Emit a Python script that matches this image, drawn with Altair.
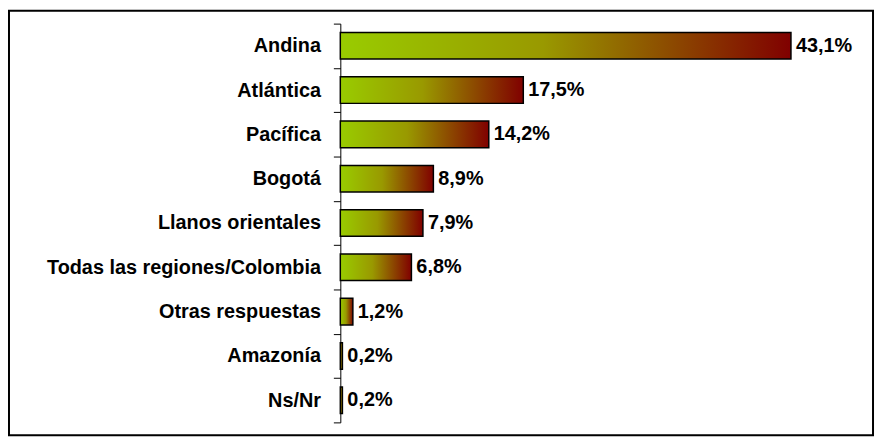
import altair as alt
import pandas as pd

categories = ["Andina", "Atlántica", "Pacífica", "Bogotá", "Llanos orientales",
              "Todas las regiones/Colombia", "Otras respuestas", "Amazonía", "Ns/Nr"]
values = [43.1, 17.5, 14.2, 8.9, 7.9, 6.8, 1.2, 0.2, 0.2]
labels = [f"{v:.1f}".replace(".", ",") + "%" for v in values]

df = pd.DataFrame({"region": categories, "pct": values, "label": labels})

FONT = "Liberation Sans"

y_enc = alt.Y("region:N", sort=categories, title=None,
              scale=alt.Scale(paddingInner=0, paddingOuter=0),
              axis=alt.Axis(domainColor="black", domainWidth=1, tickColor="black",
                            tickSize=7, tickWidth=1, tickBand="extent",
                            labelFont=FONT, labelFontSize=20, labelFontWeight="bold",
                            labelColor="black", labelPadding=13, labelLimit=0,
                            grid=False))
x_enc = alt.X("pct:Q", scale=alt.Scale(domain=[0, 50], nice=False), axis=None)

grad = alt.Gradient(gradient="linear", x1=0, y1=0, x2=1, y2=0,
                    stops=[alt.GradientStop(color="#99CC00", offset=0),
                           alt.GradientStop(color="#999900", offset=0.45),
                           alt.GradientStop(color="#800000", offset=1)])

base = alt.Chart(df)
bars = base.mark_bar(color=grad, stroke="black", strokeWidth=1.5,
                     height=alt.RelativeBandSize(0.6)).encode(x=x_enc, y=y_enc)
text = base.mark_text(align="left", baseline="middle", dx=5, font=FONT,
                      fontSize=20, fontWeight="bold", color="black").encode(
    x=alt.X("pct:Q"), y=alt.Y("region:N", sort=categories), text="label:N")

frame = alt.Chart(pd.DataFrame({"a": [0]})).mark_rect(
    fill=None, stroke="black", strokeWidth=2).encode(
    x=alt.value(-334), x2=alt.value(537), y=alt.value(-13), y2=alt.value(415))

chart = alt.layer(frame, bars, text).properties(
    width=527, height=402,
    autosize=alt.AutoSizeParams(type="none"),
    padding={"left": 335, "top": 14, "right": 12, "bottom": 15},
    background="white",
).configure_view(stroke=None)

chart.save("out.html", embed_options={"renderer": "svg", "actions": False})
